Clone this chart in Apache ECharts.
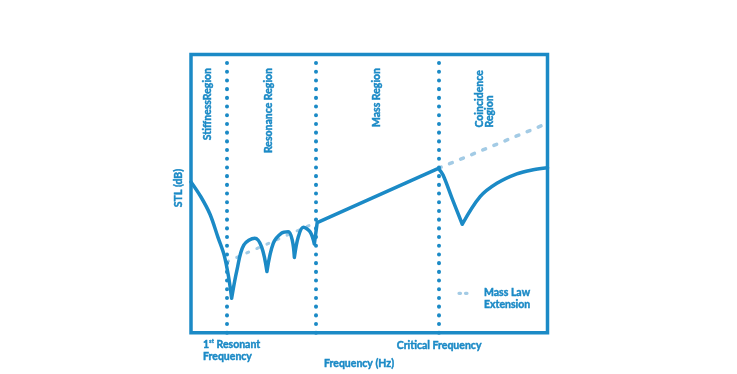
<!DOCTYPE html>
<html><head><meta charset="utf-8">
<script src="https://cdn.jsdelivr.net/npm/echarts@6/dist/echarts.min.js"></script>
<style>html,body{margin:0;padding:0;background:#fff}#c{width:737px;height:374px}</style>
</head><body><div id="c"></div>
<script>
// Region boundaries (relative frequency units, 0-100)
var boundaries = [10.0, 35.0, 69.4];
// Main STL curve, segments separated by null (cusps at dips)
var stlCurve = [
  [0, 54.2], [2.8, 48.8], [5.33, 42.6], [7.57, 34.3], [9.26, 28.1], [10.5, 20.4], [11.4, 12.4],
  null,
  [11.4, 12.4], [12.9, 22.6], [14.8, 31.5], [17.9, 34.0], [19.8, 30.9], [21.3, 22.0],
  null,
  [21.3, 22.0], [23.1, 32.2], [25.4, 35.8], [27.3, 36.3], [28.4, 33.3], [29.0, 27.1],
  null,
  [29.0, 27.1], [30.1, 34.5], [31.5, 37.9], [33.4, 36.3], [34.6, 31.9],
  null,
  [34.6, 31.9], [35.4, 39.6],
  null,
  [35.4, 39.6], [69.4, 59.1],
  null,
  [69.4, 59.1], [70.7, 56.7], [73.2, 48.4], [76.1, 39.0],
  null,
  [76.1, 39.0], [81.1, 48.9], [85.8, 53.7], [91.4, 57.1], [96.0, 58.6], [100, 59.3]
];
// Mass law extension (dotted)
var massLawResonance = [[10.0, 25.5], [35.0, 39.6]];
var massLawCoincidence = [[69.4, 59.1], [100, 75.3]];
var regionLabels = ['StiffnessRegion', 'Resonance Region', 'Mass Region', 'Coincidence\nRegion'];
var bottomLabels = ['1st Resonant\nFrequency', 'Critical Frequency', 'Frequency (Hz)'];
var yLabel = 'STL (dB)';
var legendText = 'Mass Law\nExtension';

var BLUE = '#1b8ac6', LIGHT = '#a3cbe5';
var FONT = 'Lato';
var W = 'bold';
var chart = echarts.init(document.getElementById('c'), null, {renderer: 'canvas'});
var txt = function (o) {
  return {type: 'text', silent: true, style: Object.assign({fill: BLUE, stroke: BLUE, lineWidth: 0.45, fontFamily: FONT, fontWeight: W, fontSize: 10.5}, o.style), x: o.x, y: o.y, rotation: o.rotation || 0};
};
chart.setOption({
  animation: false,
  grid: {left: 191, top: 54.5, width: 356.5, height: 278.3, show: true, borderColor: BLUE, borderWidth: 3.5, backgroundColor: 'transparent'},
  xAxis: {type: 'value', min: 0, max: 100, show: false},
  yAxis: {type: 'value', min: 0, max: 100, show: false},
  series: [
    {type: 'line', name: 'Mass Law Extension', data: massLawResonance, symbol: 'none', z: 1,
      lineStyle: {color: LIGHT, width: 3, type: [2, 9], cap: 'round'}},
    {type: 'line', name: 'Mass Law Extension 2', data: massLawCoincidence, symbol: 'none', z: 1,
      lineStyle: {color: LIGHT, width: 3.5, type: [3, 9], cap: 'round'}},
    {type: 'line', name: 'STL', data: stlCurve, symbol: 'none', smooth: 0.35, connectNulls: false, z: 3,
      lineStyle: {color: BLUE, width: 3.5, cap: 'round', join: 'round'},
      markLine: {silent: true, symbol: 'none', label: {show: false},
        lineStyle: {color: BLUE, width: 4, type: [0.1, 8.6], cap: 'round', opacity: 1},
        data: boundaries.map(function (b) { return {xAxis: b}; })}}
  ],
  graphic: [
    txt({x: 207.3, y: 68, rotation: Math.PI / 2, style: {text: regionLabels[0], textAlign: 'right', textVerticalAlign: 'middle'}}),
    txt({x: 268.3, y: 68, rotation: Math.PI / 2, style: {text: regionLabels[1], textAlign: 'right', textVerticalAlign: 'middle'}}),
    txt({x: 376.7, y: 68, rotation: Math.PI / 2, style: {text: regionLabels[2], textAlign: 'right', textVerticalAlign: 'middle'}}),
    txt({x: 484.7, y: 127.5, rotation: Math.PI / 2, style: {text: regionLabels[3], textAlign: 'left', textVerticalAlign: 'middle', lineHeight: 10.7}}),
    txt({x: 178.3, y: 188, rotation: Math.PI / 2, style: {text: yLabel, textAlign: 'center', textVerticalAlign: 'middle'}}),
    {type: 'text', x: 203, y: 350.5, silent: true, style: {
      text: '{n|1}{s|st}{n| Resonant}\n{n|Frequency}', textVerticalAlign: 'middle', fill: BLUE, fontFamily: FONT, fontWeight: W,
      rich: {n: {fontSize: 10.5, fontWeight: W, fontFamily: FONT, fill: BLUE, stroke: BLUE, lineWidth: 0.45, lineHeight: 12.4},
             s: {fontSize: 6, fontWeight: W, fontFamily: FONT, fill: BLUE, stroke: BLUE, lineWidth: 0.3, verticalAlign: 'top', lineHeight: 12.4, padding: [0, 0, 4, 0]}}}},
    txt({x: 396.7, y: 346, style: {text: bottomLabels[1], textVerticalAlign: 'middle'}}),
    txt({x: 324, y: 363.3, style: {text: bottomLabels[2], textVerticalAlign: 'middle'}}),
    {type: 'line', silent: true, shape: {x1: 459, y1: 293.3, x2: 472, y2: 293.3},
      style: {stroke: LIGHT, lineWidth: 3.2, lineDash: [1.5, 5], lineCap: 'round'}},
    txt({x: 484, y: 298.8, style: {text: legendText, textVerticalAlign: 'middle', lineHeight: 11.5}})
  ]
});
</script></body></html>
